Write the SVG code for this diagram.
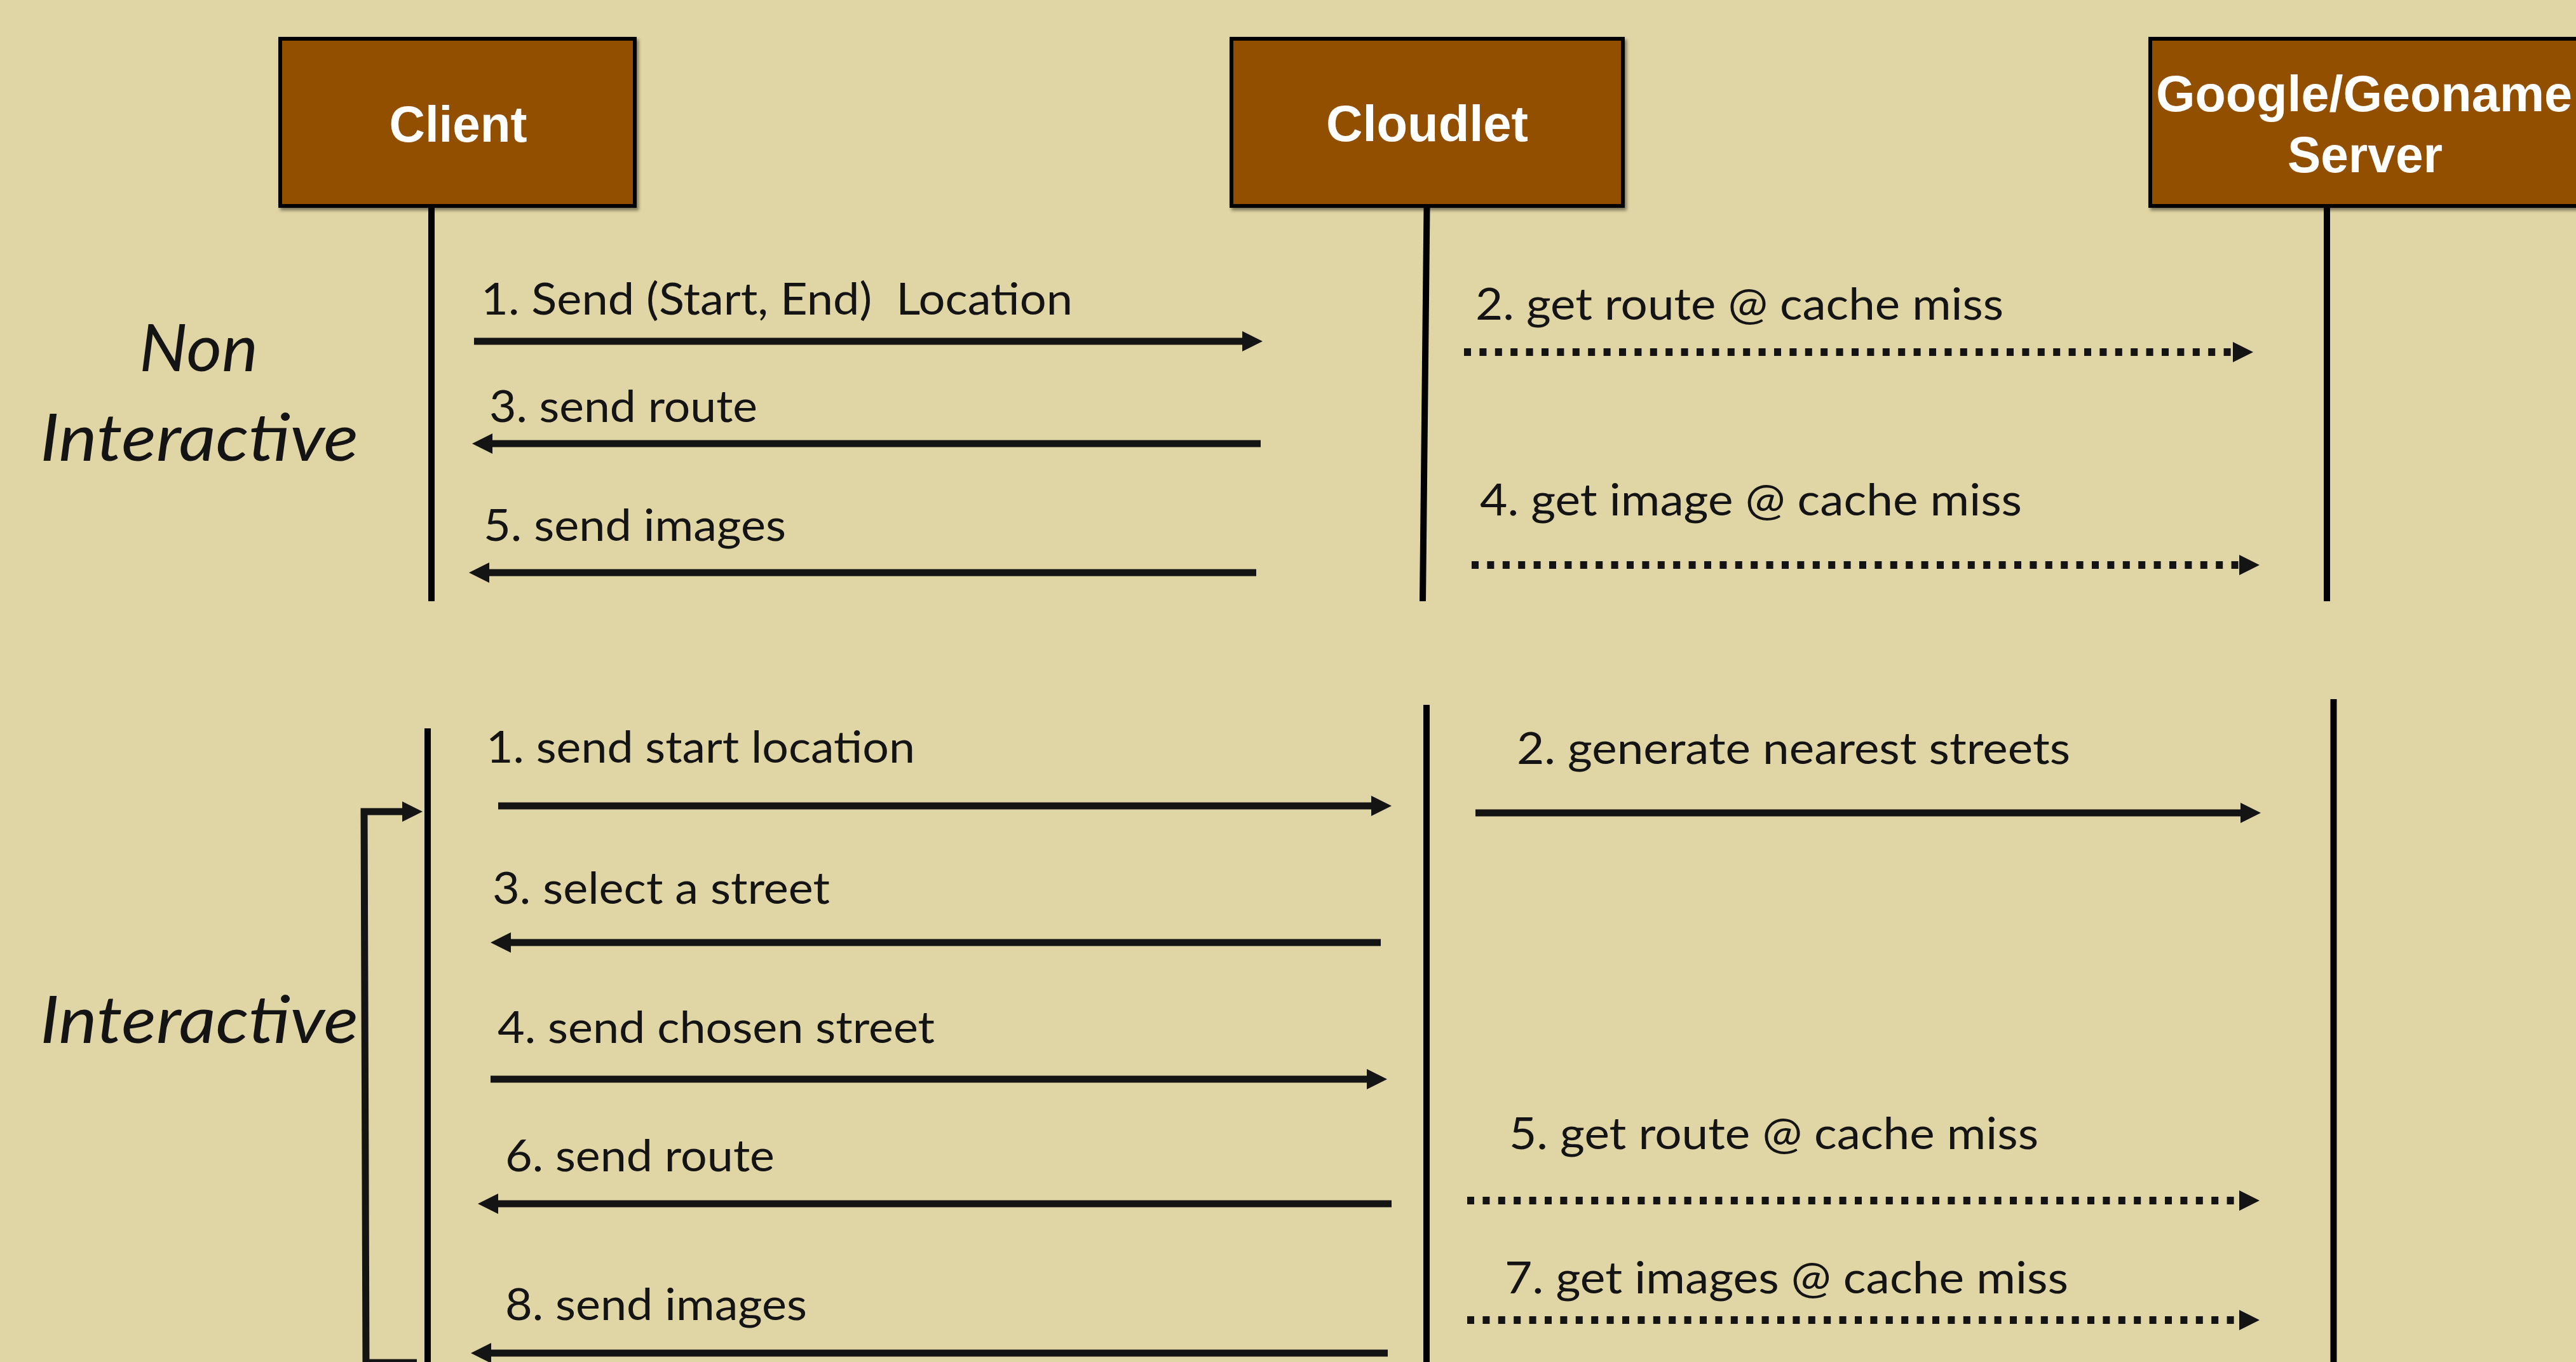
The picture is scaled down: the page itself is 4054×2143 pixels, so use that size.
<svg xmlns="http://www.w3.org/2000/svg" width="4054" height="2143" viewBox="0 0 4054 2143">
<style>
.bg{fill:#E0D5A4}
.box{fill:#934F00;stroke:#000;stroke-width:6}
.title{font-family:"Liberation Sans",Arial,sans-serif;font-weight:bold;font-size:80px;fill:#fff}
.life{stroke:#000;stroke-width:10;fill:none}
.msg{font-family:Lato,"Open Sans",sans-serif;font-size:70px;fill:#141414}
.phase{font-family:Lato,"Open Sans",sans-serif;font-style:italic;font-size:102px;fill:#141414}
.solid{stroke:#141414;stroke-width:11;fill:none}
.dot{stroke:#141414;stroke-width:12;stroke-dasharray:11 13.4;fill:none}
</style>
<defs>
<marker id="head" markerUnits="userSpaceOnUse" viewBox="0 -16 32 32" markerWidth="32" markerHeight="32" refX="0" refY="0" orient="auto">
<path d="M0,-16 L32,0 L0,16 z" fill="#141414"/>
</marker>
<filter id="shadow" x="-5%" y="-5%" width="115%" height="120%">
<feDropShadow dx="3" dy="4" stdDeviation="2.5" flood-color="#000" flood-opacity="0.45"/>
</filter>
</defs>
<rect class="bg" x="0" y="0" width="4054" height="2143"/>

<g id="label-noninteractive">
<text class="phase" x="219" y="584" textLength="187" lengthAdjust="spacingAndGlyphs">Non</text>
<text class="phase" x="63" y="725" textLength="501" lengthAdjust="spacingAndGlyphs">Interactive</text>
</g>
<g id="label-interactive">
<text class="phase" x="63" y="1641" textLength="501" lengthAdjust="spacingAndGlyphs">Interactive</text>
</g>

<g id="lifelines">
<line class="life" x1="679" y1="327" x2="679" y2="946"/>
<line class="life" x1="2245.5" y1="327" x2="2239" y2="946"/>
<line class="life" x1="3662" y1="327" x2="3662" y2="946"/>
<line class="life" x1="673" y1="1146" x2="673" y2="2143"/>
<line class="life" x1="2245" y1="1109" x2="2245" y2="2143"/>
<line class="life" x1="3672.5" y1="1100" x2="3672.5" y2="2143"/>
</g>

<g id="client">
<rect class="box" x="441" y="61" width="558" height="263" filter="url(#shadow)"/>
<text class="title" x="721" y="223" text-anchor="middle" textLength="217" lengthAdjust="spacingAndGlyphs">Client</text>
</g>
<g id="cloudlet">
<rect class="box" x="1938" y="61" width="616" height="263" filter="url(#shadow)"/>
<text class="title" x="2246" y="222" text-anchor="middle" textLength="318" lengthAdjust="spacingAndGlyphs">Cloudlet</text>
</g>
<g id="server">
<rect class="box" x="3384" y="61" width="720" height="263" filter="url(#shadow)"/>
<text class="title" x="3393" y="175" textLength="655" lengthAdjust="spacingAndGlyphs">Google/Geoname</text>
<text class="title" x="3722" y="271" text-anchor="middle" textLength="244" lengthAdjust="spacingAndGlyphs">Server</text>
</g>

<g id="connectors">
<line class="solid" x1="746" y1="537" x2="1955" y2="537" marker-end="url(#head)"/>
<line class="solid" x1="1984" y1="698" x2="775" y2="698" marker-end="url(#head)"/>
<line class="solid" x1="1977" y1="901" x2="770" y2="901" marker-end="url(#head)"/>
<line class="dot" x1="2304" y1="554" x2="3514" y2="554" marker-end="url(#head)"/>
<line class="dot" x1="2316" y1="889" x2="3524" y2="889" marker-end="url(#head)"/>
<line class="solid" x1="784" y1="1268" x2="2158" y2="1268" marker-end="url(#head)"/>
<line class="solid" x1="2322" y1="1279" x2="3526" y2="1279" marker-end="url(#head)"/>
<line class="solid" x1="2173" y1="1483" x2="804" y2="1483" marker-end="url(#head)"/>
<line class="solid" x1="772" y1="1698" x2="2151" y2="1698" marker-end="url(#head)"/>
<line class="solid" x1="2190" y1="1894" x2="784" y2="1894" marker-end="url(#head)"/>
<line class="dot" x1="2309" y1="1889" x2="3524" y2="1889" marker-end="url(#head)"/>
<line class="dot" x1="2309" y1="2077" x2="3524" y2="2077" marker-end="url(#head)"/>
<line class="solid" x1="2184" y1="2129" x2="773" y2="2129" marker-end="url(#head)"/>
<path class="solid" d="M656 2144 H576 L573 1277 H633" marker-end="url(#head)"/>
</g>

<g id="messages">
<text class="msg" x="757" y="495" xml:space="preserve" textLength="931" lengthAdjust="spacingAndGlyphs">1. Send (Start, End)  Location</text>
<text class="msg" x="770" y="664" textLength="422" lengthAdjust="spacingAndGlyphs">3. send route</text>
<text class="msg" x="761" y="851" textLength="476" lengthAdjust="spacingAndGlyphs">5. send images</text>
<text class="msg" x="2322" y="503" textLength="831" lengthAdjust="spacingAndGlyphs">2. get route @ cache miss</text>
<text class="msg" x="2329" y="811" textLength="853" lengthAdjust="spacingAndGlyphs">4. get image @ cache miss</text>
<text class="msg" x="765" y="1200" textLength="675" lengthAdjust="spacingAndGlyphs">1. send start location</text>
<text class="msg" x="2387" y="1202" textLength="871" lengthAdjust="spacingAndGlyphs">2. generate nearest streets</text>
<text class="msg" x="775" y="1422" textLength="531" lengthAdjust="spacingAndGlyphs">3. select a street</text>
<text class="msg" x="783" y="1641" textLength="688" lengthAdjust="spacingAndGlyphs">4. send chosen street</text>
<text class="msg" x="795" y="1843" textLength="424" lengthAdjust="spacingAndGlyphs">6. send route</text>
<text class="msg" x="2375" y="1808" textLength="833" lengthAdjust="spacingAndGlyphs">5. get route @ cache miss</text>
<text class="msg" x="2368" y="2035" textLength="887" lengthAdjust="spacingAndGlyphs">7. get images @ cache miss</text>
<text class="msg" x="795" y="2077" textLength="475" lengthAdjust="spacingAndGlyphs">8. send images</text>
</g>
</svg>
